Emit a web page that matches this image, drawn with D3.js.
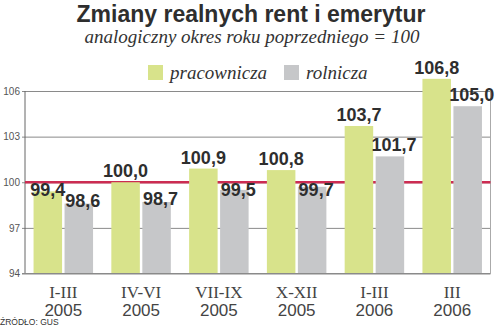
<!DOCTYPE html>
<html>
<head>
<meta charset="utf-8">
<script src="https://cdn.jsdelivr.net/npm/d3@7"></script>
<style>
  html, body { margin: 0; padding: 0; background: #fff; }
  svg { display: block; }
</style>
</head>
<body>
<svg id="chart" width="500" height="325"></svg>
<script>
// Quarterly periods and their years
const periods = ["I-III", "IV-VI", "VII-IX", "X-XII", "I-III", "III"];
const years = ["2005", "2005", "2005", "2005", "2006", "2006"];
// Real pensions, same period of previous year = 100
const pracownicza = [99.4, 100.0, 100.9, 100.8, 103.7, 106.8];
const rolnicza = [98.6, 98.7, 99.5, 99.7, 101.7, 105.0];
const seriesNames = ["pracownicza", "rolnicza"];
const yTicks = [94, 97, 100, 103, 106];

const colors = { pracownicza: "#d8e38b", rolnicza: "#c6c7c9" };
const keys = periods.map((p, i) => p + " " + years[i]);
const values = { pracownicza, rolnicza };

const svg = d3.select("#chart");
const plotLeft = 25, plotRight = 490.5, plotTop = 91, plotBottom = 273.5;

const x = d3.scaleBand().domain(keys).range([plotLeft, plotRight])
  .paddingInner(0.235).paddingOuter(0.11);
const xs = d3.scaleBand().domain(seriesNames).range([0, x.bandwidth()])
  .paddingInner(0.08);
const y = d3.scaleLinear().domain([94, 106]).range([plotBottom, plotTop]);

const fmt = d3.formatLocale({ decimal: ",", thousands: " ", grouping: [3], currency: ["", ""] }).format(".1f");

// Title block
svg.append("text").attr("x", 251).attr("y", 22).attr("text-anchor", "middle")
  .attr("font-family", "Liberation Sans, Arial, sans-serif").attr("font-weight", "bold")
  .attr("font-size", 23).attr("fill", "#2e2e2e")
  .text("Zmiany realnych rent i emerytur");
svg.append("text").attr("x", 252).attr("y", 43).attr("text-anchor", "middle")
  .attr("font-family", "Liberation Serif, Times New Roman, serif").attr("font-style", "italic")
  .attr("font-size", 19).attr("fill", "#333")
  .text("analogiczny okres roku poprzedniego = 100");

// Legend
const legendX = [148, 284];
seriesNames.forEach((s, i) => {
  svg.append("rect").attr("x", legendX[i]).attr("y", 65).attr("width", 15).attr("height", 15)
    .attr("fill", colors[s]);
  svg.append("text").attr("x", legendX[i] + 22).attr("y", 79)
    .attr("font-family", "Liberation Serif, Times New Roman, serif").attr("font-style", "italic")
    .attr("font-size", 19).attr("fill", "#333").text(s);
});

// Gridlines and y axis
const yAxis = svg.append("g").attr("transform", `translate(${plotLeft},0)`)
  .call(d3.axisLeft(y).tickValues(yTicks).tickSize(3).tickPadding(5).tickFormat(d3.format("d")))
  .call(g => g.select(".domain").remove());
yAxis.selectAll(".tick line").attr("x1", -3).attr("x2", plotRight - plotLeft).attr("stroke", "#8a8a8a").attr("stroke-width", 1);
yAxis.selectAll(".tick text").attr("font-family", "Liberation Sans, Arial, sans-serif")
  .attr("font-size", 10).attr("fill", "#555").attr("x", -5);

// Frame
svg.append("line").attr("x1", plotLeft).attr("x2", plotLeft).attr("y1", plotTop).attr("y2", plotBottom)
  .attr("stroke", "#666").attr("stroke-width", 1);
svg.append("line").attr("x1", plotRight).attr("x2", plotRight).attr("y1", plotTop).attr("y2", plotBottom)
  .attr("stroke", "#aaa").attr("stroke-width", 1);

// Reference line at 100
svg.append("line").attr("x1", plotLeft).attr("x2", plotRight).attr("y1", y(100)).attr("y2", y(100))
  .attr("stroke", "#cc2c52").attr("stroke-width", 2.5);

// Bars
const groups = svg.append("g").selectAll("g").data(keys).join("g")
  .attr("transform", d => `translate(${x(d)},0)`);
const cells = groups.selectAll("g").data((d, i) => seriesNames.map(s => ({ s, v: values[s][i] })))
  .join("g");
cells.append("rect")
  .attr("x", d => xs(d.s)).attr("width", xs.bandwidth())
  .attr("y", d => y(d.v)).attr("height", d => plotBottom - y(d.v))
  .attr("fill", d => colors[d.s]);

// Value labels
cells.append("text")
  .attr("x", d => xs(d.s) + xs.bandwidth() / 2 + (d.s === "rolnicza" ? 4 : 0))
  .attr("y", d => d.v >= 100 ? y(d.v) - 5 : Math.max(y(d.v) + 3, y(100) + 14))
  .attr("text-anchor", "middle")
  .attr("font-family", "Liberation Sans, Arial, sans-serif").attr("font-weight", "bold")
  .attr("font-size", 18).attr("fill", "#2e2e2e")
  .text(d => fmt(d.v));

// Category labels
const xl = svg.append("g").selectAll("g").data(keys).join("g")
  .attr("transform", d => `translate(${x(d) + x.bandwidth() / 2},0)`);
xl.append("text").attr("y", 297.5).attr("text-anchor", "middle")
  .attr("font-family", "Liberation Serif, Times New Roman, serif")
  .attr("font-size", 17).attr("fill", "#444").text((d, i) => periods[i]);
xl.append("text").attr("y", 315.5).attr("text-anchor", "middle")
  .attr("font-family", "Liberation Sans, Arial, sans-serif")
  .attr("font-size", 17).attr("fill", "#444").text((d, i) => years[i]);

// Bottom axis line
svg.append("line").attr("x1", plotLeft - 3).attr("x2", plotRight).attr("y1", plotBottom).attr("y2", plotBottom)
  .attr("stroke", "#8a8a8a").attr("stroke-width", 1);

// Source
svg.append("text").attr("x", 0).attr("y", 324.5)
  .attr("font-family", "Liberation Sans, Arial, sans-serif")
  .attr("font-size", 8.5).attr("fill", "#333").text("ŹRÓDŁO: GUS");
</script>
</body>
</html>
